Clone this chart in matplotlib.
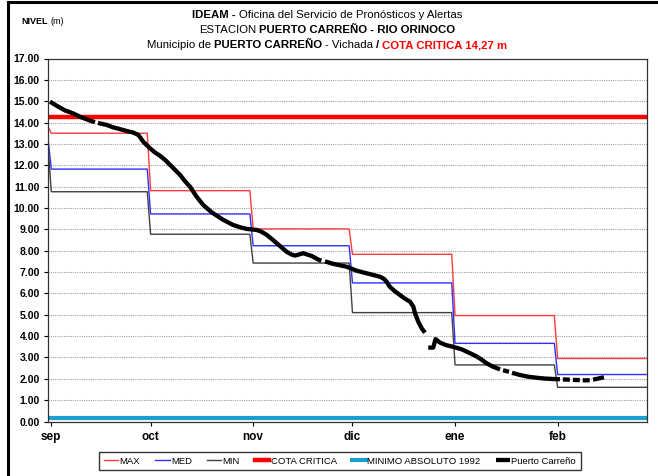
import numpy as np
import matplotlib
matplotlib.use("Agg")
import matplotlib.pyplot as plt
from matplotlib.lines import Line2D
from matplotlib.offsetbox import TextArea, HPacker, AnchoredOffsetbox

FONT = ['Liberation Sans', 'DejaVu Sans']
plt.rcParams['font.family'] = FONT

# monthly reference levels (m); first value is the closing level of august
months = ['sep', 'oct', 'nov', 'dic', 'ene', 'feb']
month_days = [30, 31, 30, 31, 31, 28]
aug_max, aug_med, aug_min = 13.8, 13.25, 12.9
max_level = [13.5, 10.81, 9.02, 7.83, 4.96, 2.95]
med_level = [11.82, 9.72, 8.23, 6.49, 3.66, 2.2]
min_level = [10.76, 8.77, 7.42, 5.1, 2.65, 1.6]
cota_critica = 14.27
minimo_1992 = 0.15

# observed levels at Puerto Carreño (day counted from aug 31), nan = no reading
pc_day = [0.6, 2.7, 5.1, 7.6, 9.7, 12.7, 14.2, np.nan, 15.1, 17.7, 19.6, 21.8,
          23.9, 25.8, 27.3, 28.8, 30.8, 32.3, 33.8, 35.6, 37.9, 39.9, 41.4,
          42.9, 44.9, 46.9, 48.3, 49.9, 53.0, 56.0, 58.0, 60.0, 63.1, 64.6,
          66.1, 67.6, 69.1, 70.6, 72.1, 73.6, 74.6, 75.8, 77.1, 79.7, 81.7,
          82.6, np.nan, 83.7, 86.2, 90.2, 93.3, 96.3, 98.3, 100.3, 101.5,
          102.3, 103.3, 104.8, 106.3, 107.9, 109.4, 110.4, 110.9, 111.9,
          112.9, 113.9, np.nan, 114.9, 116.4, 117.1, 118.4, 120.2, 122.4,
          125.0, 127.5, 129.5, 130.8, 132.5, 134.4, 136.6, np.nan, 137.5,
          139.3, np.nan, 140.2, 142.6, 145.0, 147.6, 150.2, 152.7, 154.7,
          np.nan, 155.6, 157.7, np.nan, 158.6, 160.7, np.nan, 161.6, 163.7,
          np.nan, 164.7, 165.9, 166.8, 168.0]
pc_level = [14.98, 14.78, 14.57, 14.43, 14.27, 14.09, 14.02, np.nan, 13.98,
            13.89, 13.78, 13.69, 13.6, 13.53, 13.42, 13.1, 12.8, 12.6, 12.45,
            12.22, 11.86, 11.55, 11.25, 11.0, 10.53, 10.14, 9.95, 9.75, 9.44,
            9.2, 9.1, 9.02, 8.97, 8.88, 8.74, 8.55, 8.35, 8.15, 7.95, 7.82,
            7.77, 7.82, 7.88, 7.75, 7.58, 7.53, np.nan, 7.5, 7.38, 7.25, 7.06,
            6.94, 6.86, 6.78, 6.68, 6.55, 6.31, 6.1, 5.93, 5.75, 5.61, 5.38,
            5.07, 4.67, 4.37, 4.16, np.nan, 3.46, 3.46, 3.86, 3.7, 3.58, 3.5,
            3.38, 3.2, 3.05, 2.92, 2.73, 2.57, 2.44, np.nan, 2.4, 2.33, np.nan,
            2.28, 2.18, 2.1, 2.05, 2.01, 1.99, 1.98, np.nan, 1.97, 1.96,
            np.nan, 1.95, 1.94, np.nan, 1.93, 1.93, np.nan, 1.96, 2.0, 2.03,
            2.07]

# daily step series for MAX / MED / MIN
days = np.arange(0, sum(month_days) + 1)
def daily(first, values):
    return np.concatenate([[first], np.repeat(values, month_days)])
max_daily = daily(aug_max, max_level)
med_daily = daily(aug_med, med_level)
min_daily = daily(aug_min, min_level)
month_start = np.concatenate([[0], np.cumsum(month_days)[:-1]]) + 1

W, H = 658, 476
fig = plt.figure(figsize=(W / 100, H / 100), dpi=100)
ax = fig.add_axes([48 / W, 54.5 / H, 599 / W, 363 / H])

ax.plot(days, max_daily, color='#ff3b3b', lw=1.0, label='MAX')
ax.plot(days, med_daily, color='#2f2fff', lw=1.0, label='MED')
ax.plot(days, min_daily, color='#404040', lw=1.0, label='MIN')
ax.axhline(cota_critica, color='#ff0000', lw=3.2, label='COTA CRITICA')
ax.axhline(minimo_1992, color='#1a9fd0', lw=3.0, label='MINIMO ABSOLUTO 1992')
ax.plot(pc_day, pc_level, color='black', lw=3.1, solid_capstyle='butt',
        solid_joinstyle='round', label='Puerto Carreño')

ax.set_xlim(0, sum(month_days))
ax.set_ylim(0, 17)
ax.set_yticks(np.arange(0, 18))
ax.set_yticklabels([f'{v:.2f}' for v in range(0, 18)], fontweight='bold', fontsize=7.5)
ax.set_xticks(month_start)
ax.set_xticklabels(months, fontweight='bold', fontsize=8.5)
ax.tick_params(axis='both', direction='out', length=3, width=0.8, colors='black', pad=3)
ax.tick_params(axis='x', pad=4)
for y in range(1, 17):
    ax.axhline(y, color='#a0a0a0', lw=0.8, ls=(0, (1, 1)), zorder=0)
for s in ax.spines.values():
    s.set_color('#333333')
    s.set_linewidth(0.9)

leg = fig.legend(loc='center', bbox_to_anchor=(340 / W, 1 - 461 / H), ncol=6,
                 fontsize=6.8, frameon=True, fancybox=False, edgecolor='black',
                 handlelength=1.5, handletextpad=0.15, columnspacing=1.6,
                 borderpad=0.5)
leg.get_frame().set_linewidth(1.0)


def rich_line(parts, xc, yc, size=8.2):
    boxes = [TextArea(t, textprops=dict(fontsize=size, fontweight=w, color=c,
                                        family=FONT)) for t, w, c in parts]
    pack = HPacker(children=boxes, align='baseline', pad=0, sep=2)
    box = AnchoredOffsetbox(loc='center', child=pack, pad=0, borderpad=0,
                            frameon=False, bbox_to_anchor=(xc / W, 1 - yc / H),
                            bbox_transform=fig.transFigure)
    fig.add_artist(box)


rich_line([('IDEAM -', 'bold', 'black'),
           ('Oficina del Servicio de Pronósticos y Alertas', 'normal', 'black')], 327, 15)
rich_line([('ESTACION', 'normal', 'black'),
           ('PUERTO CARREÑO - RIO ORINOCO', 'bold', 'black')], 327, 30)
rich_line([('Municipio de', 'normal', 'black'),
           ('PUERTO CARREÑO', 'bold', 'black'),
           ('- Vichada', 'normal', 'black'),
           ('/', 'bold', 'black'),
           ('COTA CRITICA 14,27 m', 'bold', '#ff0000')], 327, 45)
rich_line([('NIVEL', 'bold', 'black'), ('(m)', 'normal', 'black')], 43, 21, size=6.5)

# outer frame
fig.add_artist(Line2D([7.5 / W, 7.5 / W], [0, 1 - 1.5 / H], transform=fig.transFigure,
                      color='black', lw=2.2))
fig.add_artist(Line2D([7.5 / W, 1], [1 - 1.5 / H, 1 - 1.5 / H], transform=fig.transFigure,
                      color='black', lw=2.2))

fig.savefig('out.png', dpi=100)
